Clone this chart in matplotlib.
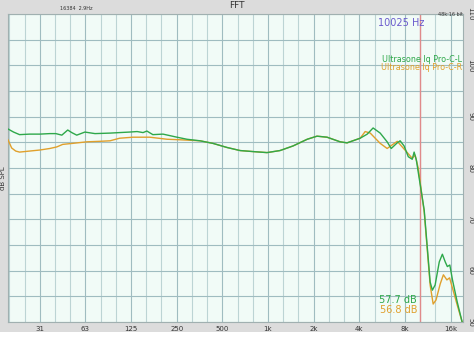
import numpy as np
import matplotlib
matplotlib.use("Agg")
import matplotlib.pyplot as plt
from matplotlib.patches import Rectangle

# ---- data ----
left_freq = [19.3, 21.0, 23.0, 26.8, 31.25, 36.4, 39.9, 43.7, 47.8, 50.8, 54.8, 62.0, 72.3, 90.9,
             105, 122, 137, 150, 159, 174, 203, 251, 292, 356, 433, 536, 654, 796, 985, 1200,
             1463, 1813, 2103, 2450, 2990, 3320, 4050, 4510, 4930, 5490, 6100, 6490, 7110, 7430,
             7890, 8410, 8930, 9190, 9500, 9780, 10710, 11720, 12120, 12640, 13460, 14110, 14740,
             15220, 15800, 16450, 17680, 19050, 19500]
left_db = [87.6, 87.0, 86.5, 86.6, 86.6, 86.7, 86.7, 86.4, 87.4, 86.9, 86.4, 87.0, 86.7, 86.8,
           86.9, 87.0, 87.1, 86.9, 87.2, 86.5, 86.6, 86.0, 85.6, 85.3, 84.8, 84.0, 83.4, 83.2, 83.0, 83.4,
           84.3, 85.6, 86.2, 86.0, 85.1, 84.9, 85.8, 86.6, 87.8, 86.8, 85.1, 83.8, 84.9, 85.3,
           84.3, 82.2, 81.7, 83.1, 81.6, 79.2, 71.8, 57.8, 56.2, 57.2, 61.7, 63.2, 61.7,
           60.8, 61.1, 58.2, 53.9, 50.0, 48.5]

right_freq = [19.3, 20.4, 21.7, 23.0, 26.8, 31.25, 36.4, 40.4, 44.3, 51.6, 63.8, 78.0, 90.9, 105,
              128.5, 166, 216, 262, 356, 433, 536, 654, 796, 985, 1200, 1463, 1813, 2103, 2450,
              2990, 3320, 4050, 4370, 4720, 5490, 6100, 7110, 8000, 8930, 9330, 9780, 10710,
              11720, 12270, 12820, 13650, 14330, 15110, 15740, 16450, 17680, 19050, 19500]
right_db = [85.5, 83.9, 83.3, 83.1, 83.3, 83.5, 83.8, 84.1, 84.6, 84.8, 85.1, 85.2, 85.3, 85.8,
            86.0, 86.0, 85.6, 85.5, 85.3, 84.8, 84.0, 83.4, 83.2, 83.0, 83.4, 84.3, 85.6, 86.2, 86.0,
            85.1, 84.9, 85.8, 87.1, 86.8, 84.8, 83.8, 85.2, 83.5, 81.9, 82.5, 80.0, 71.4,
            57.2, 53.5, 54.3, 57.4, 59.2, 58.2, 58.6, 56.6, 53.3, 50.0, 48.5]

xtick_vals = [31.25, 62.5, 125, 250, 500, 1000, 2000, 4000, 8000, 16000]
xtick_labels = ["31", "63", "125", "250", "500", "1k", "2k", "4k", "8k", "16k"]
ytick_vals = [50, 60, 70, 80, 90, 100, 110]
marker_freq = 10025
series_names = ["Ultrasone Iq Pro-C-L", "Ultrasone Iq Pro-C-R"]
readouts = ["57.7 dB", "56.8 dB"]

GREEN = "#2ea84a"
ORANGE = "#e0a02c"

W, H = 474, 346
fig = plt.figure(figsize=(W / 100, H / 100), dpi=100, facecolor="#dcdcdc")
fig.patches.append(Rectangle((0, 0), 1, 14 / H, transform=fig.transFigure,
                             facecolor="white", edgecolor="none", zorder=0))

ax = fig.add_axes([8 / W, 1 - 322 / H, (463 - 8) / W, (322 - 14) / H])
ax.set_facecolor("#f1fbf7")
ax.set_xscale("log")
ax.set_xlim(19.3, 19300)
ax.set_ylim(50, 110)

# grid: 1/3 octave verticals, 5 dB horizontals
thirds = [1000 * 2 ** (k / 3) for k in range(-18, 14)]
for f in thirds:
    major = any(abs(np.log2(f / t)) < 1e-3 for t in xtick_vals)
    ax.axvline(f, color="#9fbcc0" if major else "#bcd4d4", lw=0.8, zorder=1)
for d in range(50, 111, 5):
    ax.axhline(d, color="#9fbcc0", lw=0.8, zorder=1)

ax.axvline(marker_freq, color="#e08a8a", lw=1.0, zorder=2)

ax.plot(right_freq, right_db, color=ORANGE, lw=1.0, zorder=3)
ax.plot(left_freq, left_db, color=GREEN, lw=1.0, zorder=4)

ax.set_xticks(xtick_vals)
ax.set_xticklabels(xtick_labels)
ax.xaxis.set_minor_locator(matplotlib.ticker.NullLocator())
ax.tick_params(axis="x", length=0, labelsize=5, colors="#333333", pad=3)
ax.yaxis.tick_right()
ax.set_yticks(ytick_vals)
ax.set_yticklabels([str(v) for v in ytick_vals], rotation=-90, va="center")
ax.tick_params(axis="y", length=0, labelsize=5, colors="#333333", pad=3)
for s in ax.spines.values():
    s.set_color("#a0b0b0")
    s.set_linewidth(0.8)

fig.text(237 / W, 1 - 6 / H, "FFT", ha="center", va="center", fontsize=6.5, color="#333333")
fig.text(60 / W, 1 - 8 / H, "16384  2.9Hz", ha="left", va="center", fontsize=3.5, color="#333333")
fig.text(463 / W, 1 - 14 / H, "48k:16 bit", ha="right", va="center", fontsize=3.5, color="#333333")
fig.text(3 / W, 1 - 178 / H, "dB SPL", ha="center", va="center", rotation=90, fontsize=5, color="#333333")

fig.text(378 / W, 1 - 23 / H, f"{marker_freq} Hz", ha="left", va="center", fontsize=7, color="#6a5acd")
fig.text(462 / W, 1 - 59 / H, series_names[0], ha="right", va="center", fontsize=5.8, color=GREEN)
fig.text(462 / W, 1 - 68 / H, series_names[1], ha="right", va="center", fontsize=5.8, color=ORANGE)
fig.text(417 / W, 1 - 300 / H, readouts[0], ha="right", va="center", fontsize=7, color=GREEN)
fig.text(417 / W, 1 - 310 / H, readouts[1], ha="right", va="center", fontsize=7, color=ORANGE)

fig.savefig("out.png", dpi=100, facecolor=fig.get_facecolor())
